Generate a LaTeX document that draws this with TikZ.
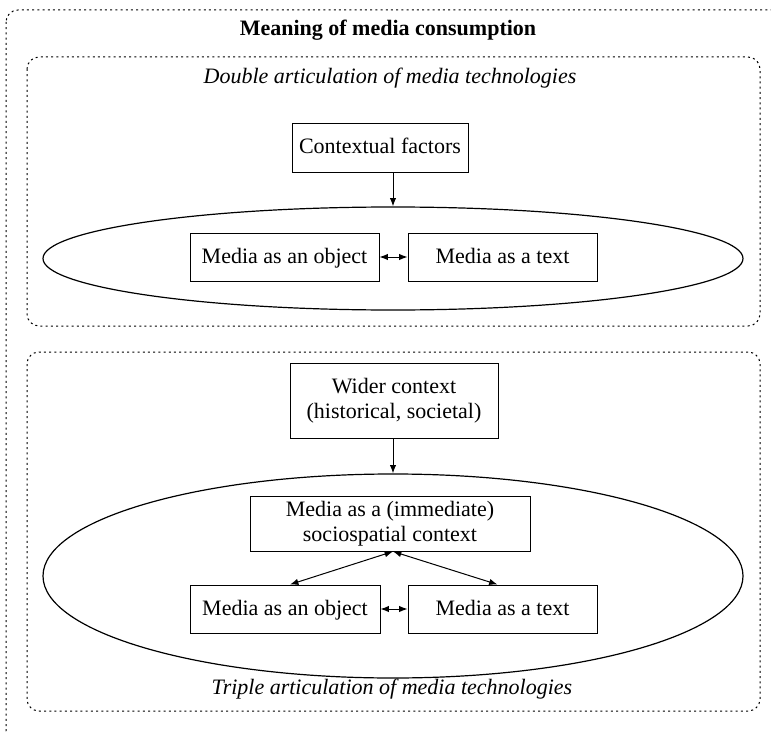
\documentclass[tikz,border=0pt]{standalone}
\usepackage{fontspec}
\setmainfont{Liberation Serif}
\usetikzlibrary{arrows.meta,shapes.geometric}
\begin{document}
\begin{tikzpicture}[x=0.5pt,y=-0.5pt,
  font=\fontsize{11}{12.5}\selectfont,
  group/.style={draw, line width=0.5pt, dash pattern=on 1pt off 1.6pt, rounded corners=6pt},
  box/.style={draw, line width=0.5pt, rectangle, inner sep=0pt, align=center},
  oneline/.style={box, text height=8pt, text depth=2pt},
  oval/.style={draw, line width=0.6pt, ellipse, inner sep=0pt},
  tip/.tip={Latex[length=4.2pt,width=3.2pt]},
  link/.style={line width=0.5pt, -tip},
  both/.style={line width=0.5pt, tip-tip}]
  \useasboundingbox (0,0) rectangle (771,733);
  \clip (0,0) rectangle (771,733);

  % outer and inner groups
  \draw[group] (6,10) rectangle (784,742);
  \draw[group] (27,57) rectangle (760,326);
  \draw[group] (27,352) rectangle (760,711);

  \node[font=\fontsize{11}{12.5}\selectfont\bfseries] (title) at (388,30) {Meaning of media consumption};
  \node[font=\fontsize{11}{12.5}\selectfont\itshape] (double) at (390,78) {Double articulation of media technologies};
  \node[font=\fontsize{11}{12.5}\selectfont\itshape] (triple) at (392,689) {Triple articulation of media technologies};

  % double articulation
  \node[oval, minimum width=350pt, minimum height=51.5pt] (ell1) at (393,258.5) {};
  \node[oneline, minimum width=88pt, minimum height=24pt] (ctx) at (380,148) {Contextual factors};
  \node[oneline, minimum width=94.5pt, minimum height=24pt] (obj1) at (284.5,257) {Media as an object};
  \node[oneline, minimum width=94.5pt, minimum height=24pt] (txt1) at (502.5,257) {Media as a text};
  \draw[link] (ctx.south -| ell1.north) -- (ell1.north);
  \draw[both] (obj1.east) -- (txt1.west);

  % triple articulation
  \node[oval, minimum width=350pt, minimum height=102pt] (ell2) at (393,576) {};
  \node[box, minimum width=104pt, minimum height=37.5pt] (wide) at (394,400.5) {Wider context\\(historical, societal)};
  \node[box, minimum width=140pt, minimum height=27.5pt] (socio) at (390,523.5) {Media as a (immediate)\\sociospatial context};
  \node[oneline, minimum width=95pt, minimum height=24pt] (obj2) at (285,609) {Media as an object};
  \node[oneline, minimum width=94.5pt, minimum height=24pt] (txt2) at (502.5,609) {Media as a text};
  \coordinate (meet) at (socio.south -| ell2.north);
  \draw[link] (wide.south -| ell2.north) -- (ell2.north);
  \draw[both] (obj2.east) -- (txt2.west);
  \draw[both] (meet) -- ([xshift=2.5pt]obj2.north);
  \draw[both] (meet) -- ([xshift=-2.5pt]txt2.north);
\end{tikzpicture}
\end{document}
